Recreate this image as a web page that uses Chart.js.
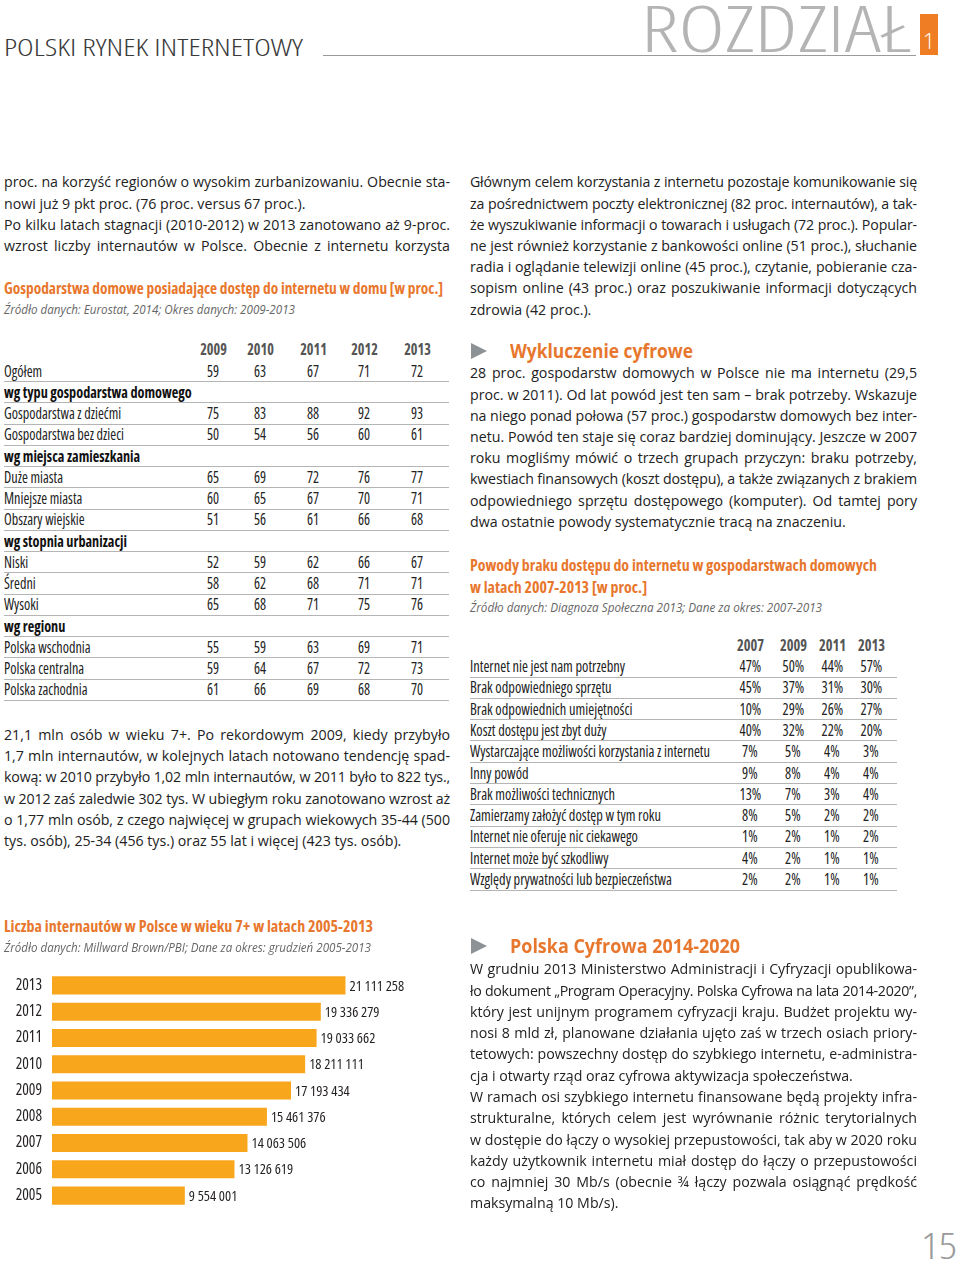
<!DOCTYPE html>
<html><head><meta charset="utf-8">
<script src="https://cdn.jsdelivr.net/npm/chart.js@4.4.1/dist/chart.umd.min.js"></script>
<style>
html,body{margin:0;padding:0;background:#fff;}
body{width:960px;height:1270px;position:relative;overflow:hidden;font-family:"Open Sans","Noto Sans",sans-serif;color:#222;}
#bars{position:absolute;left:0;top:972px;}
</style></head><body>
<canvas id="bars" width="460" height="236"></canvas>
<script>
// ---------- chart data ----------
const years = ['2013','2012','2011','2010','2009','2008','2007','2006','2005'];
const internetUsers = [21111258,19336279,19033662,18211111,17193434,15461376,14063506,13126619,9554001];

// ---------- table 1 data ----------
const t1Years = ['2009','2010','2011','2012','2013'];
const t1Labels = ['Ogółem','wg typu gospodarstwa domowego','Gospodarstwa z dziećmi','Gospodarstwa bez dzieci',
  'wg miejsca zamieszkania','Duże miasta','Mniejsze miasta','Obszary wiejskie',
  'wg stopnia urbanizacji','Niski','Średni','Wysoki',
  'wg regionu','Polska wschodnia','Polska centralna','Polska zachodnia'];
const t1Values = [[59,63,67,71,72],null,[75,83,88,92,93],[50,54,56,60,61],
  null,[65,69,72,76,77],[60,65,67,70,71],[51,56,61,66,68],
  null,[52,59,62,66,67],[58,62,68,71,71],[65,68,71,75,76],
  null,[55,59,63,69,71],[59,64,67,72,73],[61,66,69,68,70]];

// ---------- table 2 data ----------
const t2Years = ['2007','2009','2011','2013'];
const t2Labels = ['Internet nie jest nam potrzebny','Brak odpowiedniego sprzętu','Brak odpowiednich umiejętności',
  'Koszt dostępu jest zbyt duży','Wystarczające możliwości korzystania z internetu','Inny powód',
  'Brak możliwości technicznych','Zamierzamy założyć dostęp w tym roku','Internet nie oferuje nic ciekawego',
  'Internet może być szkodliwy','Względy prywatności lub bezpieczeństwa'];
const t2Values = [[47,50,44,57],[45,37,31,30],[10,29,26,27],[40,32,22,20],[7,5,4,3],[9,8,4,4],
  [13,7,3,4],[8,5,2,2],[1,2,1,2],[4,2,1,1],[2,2,1,1]];

// ---------- helpers ----------
const BODY = '"Open Sans","Noto Sans",sans-serif';
const ORANGE = '#E8772E';
const page = document.body;

function txt(x, cy, text, o = {}) {
  const h = o.h || 20;
  const d = document.createElement('div');
  Object.assign(d.style, {position:'absolute', left:x+'px', top:(cy-h/2)+'px', height:h+'px', lineHeight:h+'px',
    whiteSpace:'nowrap', fontFamily:BODY, fontSize:(o.fs||14)+'px', fontWeight:o.fw||400,
    fontStyle:o.fst||'normal', fontStretch:o.st||'100%', color:o.c||'#222'});
  const s = document.createElement('span');
  s.textContent = text; s.style.display = 'inline-block';
  d.appendChild(s); page.appendChild(d);
  if (o.align === 'center') { d.style.left = (x-60)+'px'; d.style.width = '120px'; d.style.textAlign = 'center'; }
  let k = o.sx || 1;
  if (o.w) { k = o.w / s.getBoundingClientRect().width; d.style.width = o.w + 'px'; }
  if (k !== 1) { s.style.transform = `scaleX(${k})`; s.style.transformOrigin = o.align==='center' ? '50% 50%' : '0 50%'; }
  return d;
}
function natWidth(text, fs, fw, st) {
  const s = document.createElement('span');
  Object.assign(s.style, {position:'absolute', visibility:'hidden', whiteSpace:'nowrap', fontFamily:BODY, fontSize:fs+'px', fontWeight:fw||400, fontStretch:st||'100%'});
  s.textContent = text; page.appendChild(s);
  const w = s.getBoundingClientRect().width; s.remove(); return w;
}
function para(x, cy0, w, lh, lines, fs) {
  lines.forEach(([text, j], i) => {
    const d = txt(x, cy0 + i*lh, text, {fs: fs, h: lh});
    d.style.width = w + 'px';
    const s = d.firstChild;
    let nat = s.getBoundingClientRect().width;
    if (nat > w) {
      s.style.letterSpacing = ((w - nat) / text.length - 0.02) + 'px';
      nat = s.getBoundingClientRect().width;
    }
    const n = (text.match(/ /g) || []).length;
    if (j && n > 0) s.style.wordSpacing = ((w - nat) / n) + 'px';
  });
}
function hline(x1, x2, y, c) {
  const d = document.createElement('div');
  Object.assign(d.style, {position:'absolute', left:x1+'px', top:y+'px', width:(x2-x1)+'px', height:'1px', background:c||'#b8b8b8'});
  page.appendChild(d);
}
function box(x, y, w, h, c) {
  const b = document.createElement('div');
  Object.assign(b.style,{position:'absolute',left:x+'px',top:y+'px',width:w+'px',height:h+'px',background:c});
  page.appendChild(b);
}
function tri(x, cy) {
  const t = document.createElement('div');
  Object.assign(t.style,{position:'absolute',left:x+'px',top:(cy-8)+'px',width:0,height:0,
    borderTop:'8px solid transparent',borderBottom:'8px solid transparent',borderLeft:'16px solid #8d9297'});
  page.appendChild(t);
}

// ---------- header ----------
txt(4, 47, 'POLSKI RYNEK INTERNETOWY', {fs:23, fw:300, st:'87.5%', w:299, h:28, c:'#3a3a3a'});
hline(323, 916, 55, '#9a9a9a');
txt(641, 28, 'ROZDZIAŁ', {fs:64, fw:300, st:'87.5%', w:271, h:56, c:'#b4b4b4'});
box(920, 14, 18, 41, '#EE7D23');
txt(929, 40, '1', {fs:22, fw:300, h:26, c:'#fff', align:'center'});
txt(921, 1245, '15', {fs:37, fw:300, st:'87.5%', w:36, h:36, c:'#9a9a9a'});

// ---------- left column ----------
const TT = 16; // orange condensed title size
para(4, 182, 446, 21.2, [
  ['proc. na korzyść regionów o wysokim zurbanizowaniu. Obecnie sta-',1],
  ['nowi już 9 pkt proc. (76 proc. versus 67 proc.).',0],
  ['Po kilku latach stagnacji (2010-2012) w 2013 zanotowano aż 9-proc.',1],
  ['wzrost liczby internautów w Polsce. Obecnie z internetu korzysta',1]], 14.2);

txt(4, 288, 'Gospodarstwa domowe posiadające dostęp do internetu w domu [w proc.]', {fs:TT, fw:700, st:'75%', w:439, c:ORANGE, h:20});
txt(4, 310, 'Źródło danych: Eurostat, 2014; Okres danych: 2009-2013', {fs:12, fst:'italic', w:291, c:'#666', h:18});

// table 1
const TF = 16.5;
const kT1 = 120 / natWidth('Gospodarstwa bez dzieci', TF, 400, '75%');
const t1Cols = [213,260,313,364,417];
t1Years.forEach((y,i)=> txt(t1Cols[i], 349, y, {fs:TF, fw:700, st:'75%', c:'#555', align:'center', sx:kT1}));
t1Labels.forEach((lab, r) => {
  const cy = 370.5 + r*21.25;
  const v = t1Values[r];
  txt(4, cy, lab, {fs:TF, fw: v ? 400 : 700, st:'75%', c: v ? '#222' : '#111', sx:kT1});
  if (v) v.forEach((n,i)=> txt(t1Cols[i], cy, String(n), {fs:TF, st:'75%', align:'center', sx:kT1}));
  hline(4, 449, Math.round(cy + 10.5), '#b5b5b5');
});

para(4, 734.5, 446, 21.3, [
  ['21,1 mln osób w wieku 7+. Po rekordowym 2009, kiedy przybyło',1],
  ['1,7 mln internautów, w kolejnych latach notowano tendencję spad-',1],
  ['kową: w 2010 przybyło 1,02 mln internautów, w 2011 było to 822 tys.,',1],
  ['w 2012 zaś zaledwie 302 tys. W ubiegłym roku zanotowano wzrost aż',1],
  ['o 1,77 mln osób, z czego najwięcej w grupach wiekowych 35-44 (500',1],
  ['tys. osób), 25-34 (456 tys.) oraz 55 lat i więcej (423 tys. osób).',0]], 14.2);

txt(4, 926, 'Liczba internautów w Polsce w wieku 7+ w latach 2005-2013', {fs:TT, fw:700, st:'75%', w:369, c:ORANGE, h:20});
txt(4, 948, 'Źródło danych: Millward Brown/PBI; Dane za okres: grudzień 2005-2013', {fs:12, fst:'italic', w:367, c:'#666', h:18});

// ---------- right column ----------
para(470, 182, 447, 21.2, [
  ['Głównym celem korzystania z internetu pozostaje komunikowanie się',1],
  ['za pośrednictwem poczty elektronicznej (82 proc. internautów), a tak-',1],
  ['że wyszukiwanie informacji o towarach i usługach (72 proc.). Popular-',1],
  ['ne jest również korzystanie z bankowości online (51 proc.), słuchanie',1],
  ['radia i oglądanie telewizji online (45 proc.), czytanie, pobieranie cza-',1],
  ['sopism online (43 proc.) oraz poszukiwanie informacji dotyczących',1],
  ['zdrowia (42 proc.).',0]], 14.2);

tri(471, 351);
txt(510, 351, 'Wykluczenie cyfrowe', {fs:19, fw:700, w:183, c:ORANGE, h:22});
para(470, 373, 447, 21.2, [
  ['28 proc. gospodarstw domowych w Polsce nie ma internetu (29,5',1],
  ['proc. w 2011). Od lat powód jest ten sam – brak potrzeby. Wskazuje',1],
  ['na niego ponad połowa (57 proc.) gospodarstw domowych bez inter-',1],
  ['netu. Powód ten staje się coraz bardziej dominujący. Jeszcze w 2007',1],
  ['roku mogliśmy mówić o trzech grupach przyczyn: braku potrzeby,',1],
  ['kwestiach finansowych (koszt dostępu), a także związanych z brakiem',1],
  ['odpowiedniego sprzętu dostępowego (komputer). Od tamtej pory',1],
  ['dwa ostatnie powody systematycznie tracą na znaczeniu.',0]], 14.2);

txt(470, 564.5, 'Powody braku dostępu do internetu w gospodarstwach domowych', {fs:TT, fw:700, st:'75%', w:407, c:ORANGE, h:20});
txt(470, 586.5, 'w latach 2007-2013 [w proc.]', {fs:TT, fw:700, st:'75%', w:177, c:ORANGE, h:20});
txt(470, 608, 'Źródło danych: Diagnoza Społeczna 2013; Dane za okres: 2007-2013', {fs:12, fst:'italic', w:352, c:'#666', h:18});

const kT2 = 240 / natWidth('Wystarczające możliwości korzystania z internetu', TF, 400, '75%');
const t2Cols = [750,793,832,871];
t2Years.forEach((y,i)=> txt(t2Cols[i], 645, y, {fs:TF, fw:700, st:'75%', c:'#555', align:'center', sx:kT2}));
t2Labels.forEach((lab, r) => {
  const cy = 666 + r*21.3;
  txt(470, cy, lab, {fs:TF, st:'75%', sx:kT2});
  t2Values[r].forEach((n,i)=> txt(t2Cols[i], cy, n + '%', {fs:TF, st:'75%', align:'center', sx:kT2}));
  hline(470, 897, Math.round(cy + 10.5), '#b5b5b5');
});

tri(471, 946);
txt(510, 946, 'Polska Cyfrowa 2014-2020', {fs:19, fw:700, w:230, c:ORANGE, h:22});
para(470, 969, 447, 21.27, [
  ['W grudniu 2013 Ministerstwo Administracji i Cyfryzacji opublikowa-',1],
  ['ło dokument „Program Operacyjny. Polska Cyfrowa na lata 2014-2020”,',1],
  ['który jest unijnym programem cyfryzacji kraju. Budżet projektu wy-',1],
  ['nosi 8 mld zł, planowane działania ujęto zaś w trzech osiach priory-',1],
  ['tetowych: powszechny dostęp do szybkiego internetu, e-administra-',1],
  ['cja i otwarty rząd oraz cyfrowa aktywizacja społeczeństwa.',0],
  ['W ramach osi szybkiego internetu finansowane będą projekty infra-',1],
  ['strukturalne, których celem jest wyrównanie różnic terytorialnych',1],
  ['w dostępie do łączy o wysokiej przepustowości, tak aby w 2020 roku',1],
  ['każdy użytkownik internetu miał dostęp do łączy o przepustowości',1],
  ['co najmniej 30 Mb/s (obecnie ¾ łączy pozwala osiągnąć prędkość',1],
  ['maksymalną 10 Mb/s).',0]], 14.2);

// ---------- bar chart ----------
const fmt = v => String(v).replace(/\B(?=(\d{3})+(?!\d))/g, ' ');
const valueLabels = {
  id: 'valueLabels',
  afterDatasetsDraw(chart) {
    const ctx = chart.ctx;
    const meta = chart.getDatasetMeta(0);
    ctx.save();
    ctx.font = 'condensed 14.5px "Open Sans"';
    ctx.fillStyle = '#231f20';
    ctx.textBaseline = 'middle';
    ctx.textAlign = 'left';
    meta.data.forEach((bar, i) => {
      ctx.fillText(fmt(chart.data.datasets[0].data[i]), bar.x + 4, bar.y + 1);
    });
    ctx.restore();
  }
};
const chartTop = 972, chartH = 236;
function chartConfig() {
  return {
    type: 'bar',
    data: { labels: years, datasets: [{ data: internetUsers, backgroundColor: '#F8A61C', borderWidth: 0,
      categoryPercentage: 1, barPercentage: 0.69 }] },
    options: {
      indexAxis: 'y', responsive: false, maintainAspectRatio: false, animation: false, devicePixelRatio: 1,
      layout: { padding: 0 },
      plugins: { legend: { display: false }, tooltip: { enabled: false } },
      scales: {
        x: { display: false, min: 0, max: 29350000 },
        y: { grid: { display: false, drawTicks: false }, border: { display: false },
          ticks: { color: '#231f20', font: { family: '"Open Sans"', weight: 'condensed', size: 15.5 }, padding: 10 },
          afterFit(s) { s.width = 52; } }
      }
    },
    plugins: [valueLabels]
  };
}
const cvs = document.getElementById('bars');
let chart = new Chart(cvs, chartConfig());
const padT = chart.chartArea.top, padB = chartH - chart.chartArea.bottom;
if (padT > 0.5 || padB > 0.5) {
  chart.destroy();
  cvs.width = 460; cvs.height = Math.round(chartH + padT + padB);
  cvs.style.top = Math.round(chartTop - padT) + 'px';
  chart = new Chart(cvs, chartConfig());
}
</script>
</body></html>
